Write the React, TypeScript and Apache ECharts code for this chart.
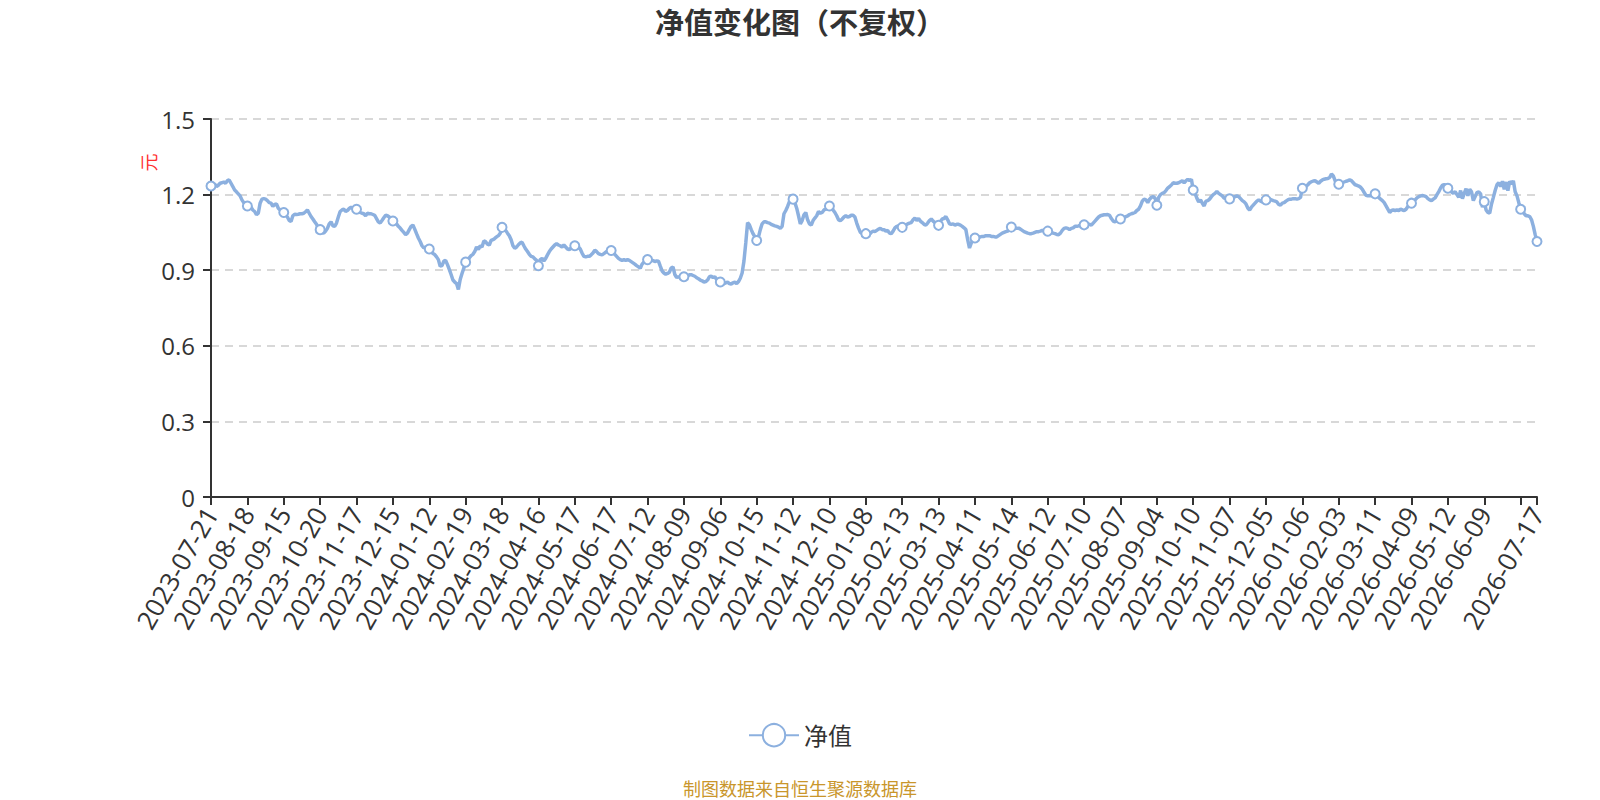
import React, { useEffect, useRef } from "react";
import * as echarts from "echarts";

// Dates shown as x-axis labels (one every 20 trading days) and the final date
const labelDates = [
  "2023-07-21", "2023-08-18", "2023-09-15", "2023-10-20", "2023-11-17", "2023-12-15",
  "2024-01-12", "2024-02-19", "2024-03-18", "2024-04-16", "2024-05-17", "2024-06-17",
  "2024-07-12", "2024-08-09", "2024-09-06", "2024-10-15", "2024-11-12", "2024-12-10",
  "2025-01-08", "2025-02-13", "2025-03-13", "2025-04-11", "2025-05-14", "2025-06-12",
  "2025-07-10", "2025-08-07", "2025-09-04", "2025-10-10", "2025-11-07", "2025-12-05",
  "2026-01-06", "2026-02-03", "2026-03-11", "2026-04-09", "2026-05-12", "2026-06-09",
];
const lastDate = "2026-07-17";
const labelStep = 20;
const hiddenLabelIndex = 720;

// Net asset value (元)
const navSeg1 = [
  1.234,
  1.239, 1.242, 1.232, 1.237, 1.245, 1.247, 1.250, 1.245, 1.255, 1.258, 1.245, 1.232, 1.218, 1.211, 1.203, 1.195, 1.179, 1.168, 1.163, 1.155,
  1.153, 1.150, 1.139, 1.133, 1.120, 1.126, 1.166, 1.182, 1.184, 1.182, 1.176, 1.168, 1.166, 1.153, 1.161, 1.163, 1.146, 1.139, 1.134, 1.129,
  1.120, 1.111, 1.097, 1.093, 1.116, 1.122, 1.121, 1.122, 1.124, 1.124, 1.126, 1.132, 1.139, 1.126, 1.113, 1.103, 1.092, 1.082, 1.067, 1.061,
  1.050, 1.047, 1.055, 1.066, 1.084, 1.092, 1.076, 1.074, 1.087, 1.111, 1.133, 1.139, 1.142, 1.133, 1.137, 1.145, 1.150, 1.146, 1.145, 1.142,
  1.133, 1.129, 1.126, 1.124, 1.116, 1.126, 1.124, 1.124, 1.121, 1.118, 1.105, 1.092, 1.087, 1.097, 1.108, 1.118, 1.116, 1.111, 1.103, 1.095,
  1.089, 1.084, 1.074, 1.067, 1.058, 1.050, 1.041, 1.047, 1.061, 1.074, 1.079, 1.063, 1.045, 1.028, 1.014, 0.997, 0.988, 0.992, 0.989, 0.984,
  0.979, 0.966, 0.962, 0.953, 0.942, 0.916, 0.918, 0.936, 0.939, 0.922, 0.903, 0.883, 0.861, 0.853, 0.847, 0.824, 0.863, 0.887, 0.908, 0.932,
  0.939, 0.949, 0.958, 0.963, 0.974, 0.992, 0.982, 0.997, 0.992, 1.016, 1.013, 1.003, 1.000, 1.018, 1.021, 1.026, 1.032, 1.037, 1.047, 1.070,
  1.063, 1.058, 1.047, 1.037, 1.021, 0.997, 0.987, 0.992, 1.001, 1.008, 1.011, 0.997, 0.984, 0.974, 0.963, 0.955, 0.953, 0.945, 0.939, 0.918,
];
const navSeg2 = [
  0.942, 0.947, 0.937, 0.947, 0.961, 0.974, 0.984, 0.992, 1.000, 1.005, 1.000, 0.997, 0.992, 1.000, 0.992, 0.984, 0.982, 0.987, 0.989, 0.997,
  0.995, 0.992, 0.984, 0.968, 0.955, 0.953, 0.955, 0.955, 0.961, 0.968, 0.979, 0.974, 0.966, 0.963, 0.961, 0.966, 0.971, 0.976, 0.982, 0.978,
  0.971, 0.963, 0.955, 0.947, 0.942, 0.939, 0.942, 0.939, 0.942, 0.939, 0.934, 0.929, 0.924, 0.918, 0.913, 0.908, 0.924, 0.932, 0.937, 0.942,
  0.939, 0.937, 0.939, 0.934, 0.937, 0.936, 0.916, 0.897, 0.889, 0.884, 0.887, 0.892, 0.909, 0.913, 0.883, 0.871, 0.874, 0.870, 0.868, 0.874,
  0.874, 0.876, 0.882, 0.882, 0.879, 0.876, 0.870, 0.866, 0.861, 0.858, 0.853, 0.855, 0.861, 0.874, 0.876, 0.871, 0.874, 0.863, 0.855, 0.853,
  0.850, 0.847, 0.850, 0.853, 0.847, 0.845, 0.850, 0.853, 0.847, 0.855, 0.868, 0.889, 0.936, 1.008, 1.089, 1.080, 1.061, 1.045, 1.032, 1.018,
  1.032, 1.061, 1.084, 1.092, 1.092, 1.089, 1.087, 1.082, 1.079, 1.076, 1.074, 1.071, 1.066, 1.074, 1.124, 1.137, 1.153, 1.172, 1.200, 1.182,
  1.168, 1.146, 1.116, 1.084, 1.097, 1.120, 1.129, 1.100, 1.084, 1.079, 1.097, 1.107, 1.116, 1.133, 1.126, 1.129, 1.139, 1.142, 1.146, 1.155,
  1.150, 1.139, 1.129, 1.116, 1.100, 1.097, 1.103, 1.111, 1.116, 1.111, 1.113, 1.118, 1.118, 1.111, 1.087, 1.067, 1.050, 1.045, 1.042, 1.045,
];
const navSeg3 = [
  1.045, 1.042, 1.050, 1.055, 1.053, 1.058, 1.063, 1.066, 1.061, 1.061, 1.055, 1.058, 1.047, 1.045, 1.055, 1.068, 1.074, 1.076, 1.074, 1.070,
  1.074, 1.079, 1.084, 1.087, 1.089, 1.100, 1.107, 1.097, 1.105, 1.095, 1.089, 1.082, 1.079, 1.087, 1.097, 1.103, 1.095, 1.089, 1.084, 1.078,
  1.093, 1.103, 1.105, 1.113, 1.100, 1.084, 1.082, 1.084, 1.079, 1.082, 1.082, 1.079, 1.074, 1.068, 1.061, 1.021, 0.988, 1.008, 1.021, 1.028,
  1.029, 1.032, 1.032, 1.034, 1.034, 1.037, 1.037, 1.037, 1.034, 1.034, 1.032, 1.032, 1.037, 1.042, 1.047, 1.050, 1.053, 1.055, 1.061, 1.071,
  1.070, 1.068, 1.066, 1.067, 1.063, 1.058, 1.053, 1.050, 1.047, 1.045, 1.045, 1.047, 1.050, 1.053, 1.053, 1.055, 1.058, 1.055, 1.053, 1.055,
  1.053, 1.050, 1.047, 1.045, 1.042, 1.041, 1.047, 1.058, 1.066, 1.068, 1.066, 1.061, 1.066, 1.068, 1.074, 1.074, 1.076, 1.079, 1.082, 1.080,
  1.082, 1.084, 1.082, 1.079, 1.087, 1.095, 1.103, 1.111, 1.116, 1.118, 1.120, 1.120, 1.121, 1.118, 1.105, 1.095, 1.092, 1.097, 1.103, 1.103,
  1.105, 1.108, 1.113, 1.116, 1.121, 1.124, 1.126, 1.129, 1.137, 1.142, 1.155, 1.174, 1.182, 1.179, 1.168, 1.182, 1.189, 1.192, 1.186, 1.158,
  1.189, 1.200, 1.205, 1.208, 1.216, 1.226, 1.232, 1.238, 1.247, 1.245, 1.245, 1.247, 1.251, 1.255, 1.247, 1.255, 1.261, 1.255, 1.261, 1.218,
];
const navSeg4 = [
  1.205, 1.186, 1.171, 1.179, 1.166, 1.155, 1.174, 1.176, 1.182, 1.192, 1.200, 1.205, 1.213, 1.205, 1.200, 1.195, 1.186, 1.184, 1.183, 1.183,
  1.184, 1.188, 1.192, 1.195, 1.192, 1.184, 1.176, 1.171, 1.163, 1.147, 1.139, 1.150, 1.158, 1.166, 1.174, 1.179, 1.174, 1.171, 1.176, 1.179,
  1.179, 1.182, 1.179, 1.176, 1.174, 1.171, 1.161, 1.158, 1.166, 1.168, 1.174, 1.179, 1.182, 1.182, 1.184, 1.184, 1.182, 1.184, 1.189, 1.225,
  1.226, 1.232, 1.239, 1.247, 1.251, 1.254, 1.255, 1.250, 1.245, 1.253, 1.258, 1.261, 1.263, 1.264, 1.268, 1.282, 1.274, 1.255, 1.245, 1.241,
  1.245, 1.247, 1.250, 1.253, 1.255, 1.258, 1.255, 1.247, 1.239, 1.237, 1.234, 1.229, 1.221, 1.208, 1.197, 1.195, 1.195, 1.197, 1.200, 1.203,
  1.197, 1.189, 1.182, 1.176, 1.168, 1.155, 1.142, 1.129, 1.137, 1.139, 1.137, 1.139, 1.137, 1.142, 1.139, 1.137, 1.142, 1.153, 1.161, 1.166,
  1.171, 1.179, 1.187, 1.192, 1.195, 1.196, 1.195, 1.192, 1.184, 1.179, 1.176, 1.182, 1.187, 1.200, 1.212, 1.226, 1.237, 1.239, 1.237, 1.225,
  1.221, 1.211, 1.205, 1.212, 1.200, 1.189, 1.216, 1.184, 1.205, 1.224, 1.195, 1.221, 1.211, 1.176, 1.192, 1.208, 1.211, 1.203, 1.150, 1.172,
  1.139, 1.129, 1.126, 1.163, 1.189, 1.216, 1.239, 1.247, 1.232, 1.253, 1.221, 1.250, 1.216, 1.253, 1.242, 1.255, 1.211, 1.195, 1.168, 1.142,
  1.133, 1.124, 1.116, 1.116, 1.113, 1.100, 1.074, 1.041, 1.014,
];
const navValues = [...navSeg1, ...navSeg2, ...navSeg3, ...navSeg4];

const yMin = 0;
const yMax = 1.5;
const yInterval = 0.3;

const titleText = "净值变化图（不复权）";
const seriesName = "净值";
const unitText = "元";
const footerText = "制图数据来自恒生聚源数据库";

const FONT = "'Open Sans', 'Noto Sans CJK SC', sans-serif";
const LINE_COLOR = "#8cb0df";

function fmt(d: Date) {
  return d.toISOString().slice(0, 10);
}

// Trading-day categories: anchored on the labelled dates, weekdays in between
function buildCategories(count: number): string[] {
  const out: string[] = [];
  let cur = new Date(labelDates[0] + "T00:00:00Z");
  for (let i = 0; i < count; i++) {
    const k = i / labelStep;
    if (i === count - 1) {
      out.push(lastDate);
    } else if (i % labelStep === 0 && k < labelDates.length) {
      cur = new Date(labelDates[k] + "T00:00:00Z");
      out.push(labelDates[k]);
    } else {
      do {
        cur.setUTCDate(cur.getUTCDate() + 1);
      } while (cur.getUTCDay() === 0 || cur.getUTCDay() === 6);
      out.push(fmt(cur));
    }
  }
  return out;
}

export default function App() {
  const ref = useRef<HTMLDivElement>(null);

  useEffect(() => {
    if (!ref.current) return;
    const chart = echarts.init(ref.current, undefined, { renderer: "svg" });
    const n = navValues.length;
    const lastIdx = n - 1;
    const categories = buildCategories(n);
    const isTick = (i: number) => i % labelStep === 0 || i === lastIdx;
    const isLabel = (i: number) => (i % labelStep === 0 && i !== hiddenLabelIndex) || i === lastIdx;

    const seriesData = navValues.map((v, i) =>
      isTick(i) ? v : { value: v, symbol: "none" }
    );

    chart.setOption({
      animation: false,
      backgroundColor: "#ffffff",
      textStyle: { fontFamily: FONT },
      title: {
        text: titleText,
        left: "center",
        top: 3,
        textStyle: { fontSize: 29, fontWeight: "bold", color: "#333", fontFamily: FONT },
      },
      grid: { left: 211, right: 63, top: 119, bottom: 303, containLabel: false },
      legend: {
        data: [seriesName],
        left: "center",
        top: 718,
        itemWidth: 50,
        itemHeight: 28,
        lineStyle: { width: 2 },
        textStyle: { fontSize: 24, color: "#333", fontFamily: FONT },
      },
      xAxis: {
        type: "category",
        data: categories,
        boundaryGap: false,
        axisLine: { lineStyle: { color: "#333", width: 2 } },
        axisTick: {
          interval: (i: number) => isTick(i),
          length: 8,
          lineStyle: { color: "#333", width: 2 },
        },
        axisLabel: {
          interval: (i: number) => isLabel(i),
          rotate: 60,
          fontSize: 26,
          color: "#333",
          margin: 12,
          fontFamily: FONT,
        },
        splitLine: { show: false },
      },
      yAxis: {
        type: "value",
        min: yMin,
        max: yMax,
        interval: yInterval,
        axisLine: { show: true, lineStyle: { color: "#333", width: 2 } },
        axisTick: { show: true, length: 8, lineStyle: { color: "#333", width: 2 } },
        axisLabel: { fontSize: 24, color: "#333", margin: 16, fontFamily: FONT },
        splitLine: { lineStyle: { color: "#cccccc", width: 1.5, type: [8, 6] } },
      },
      graphic: [
        {
          type: "text",
          x: 149,
          y: 162.5,
          rotation: Math.PI / 2,
          style: {
            text: unitText,
            fontSize: 18,
            fill: "#ff3030",
            align: "center",
            verticalAlign: "middle",
            textAlign: "center",
            textVerticalAlign: "middle",
            fontFamily: FONT,
          },
        },
        {
          type: "text",
          x: 800,
          y: 789,
          style: {
            text: footerText,
            fontSize: 18,
            fill: "#c9962b",
            align: "center",
            verticalAlign: "middle",
            textAlign: "center",
            textVerticalAlign: "middle",
            fontFamily: FONT,
          },
        },
      ],
      series: [
        {
          name: seriesName,
          type: "line",
          data: seriesData,
          symbol: "emptyCircle",
          symbolSize: 9,
          showSymbol: true,
          showAllSymbol: true,
          lineStyle: { color: LINE_COLOR, width: 3.5 },
          itemStyle: { color: LINE_COLOR, borderWidth: 2 },
        },
      ],
    });
    return () => chart.dispose();
  }, []);

  return (
    <div
      ref={ref}
      style={{ position: "absolute", left: 0, top: 0, width: 1600, height: 800, background: "#fff" }}
    />
  );
}
